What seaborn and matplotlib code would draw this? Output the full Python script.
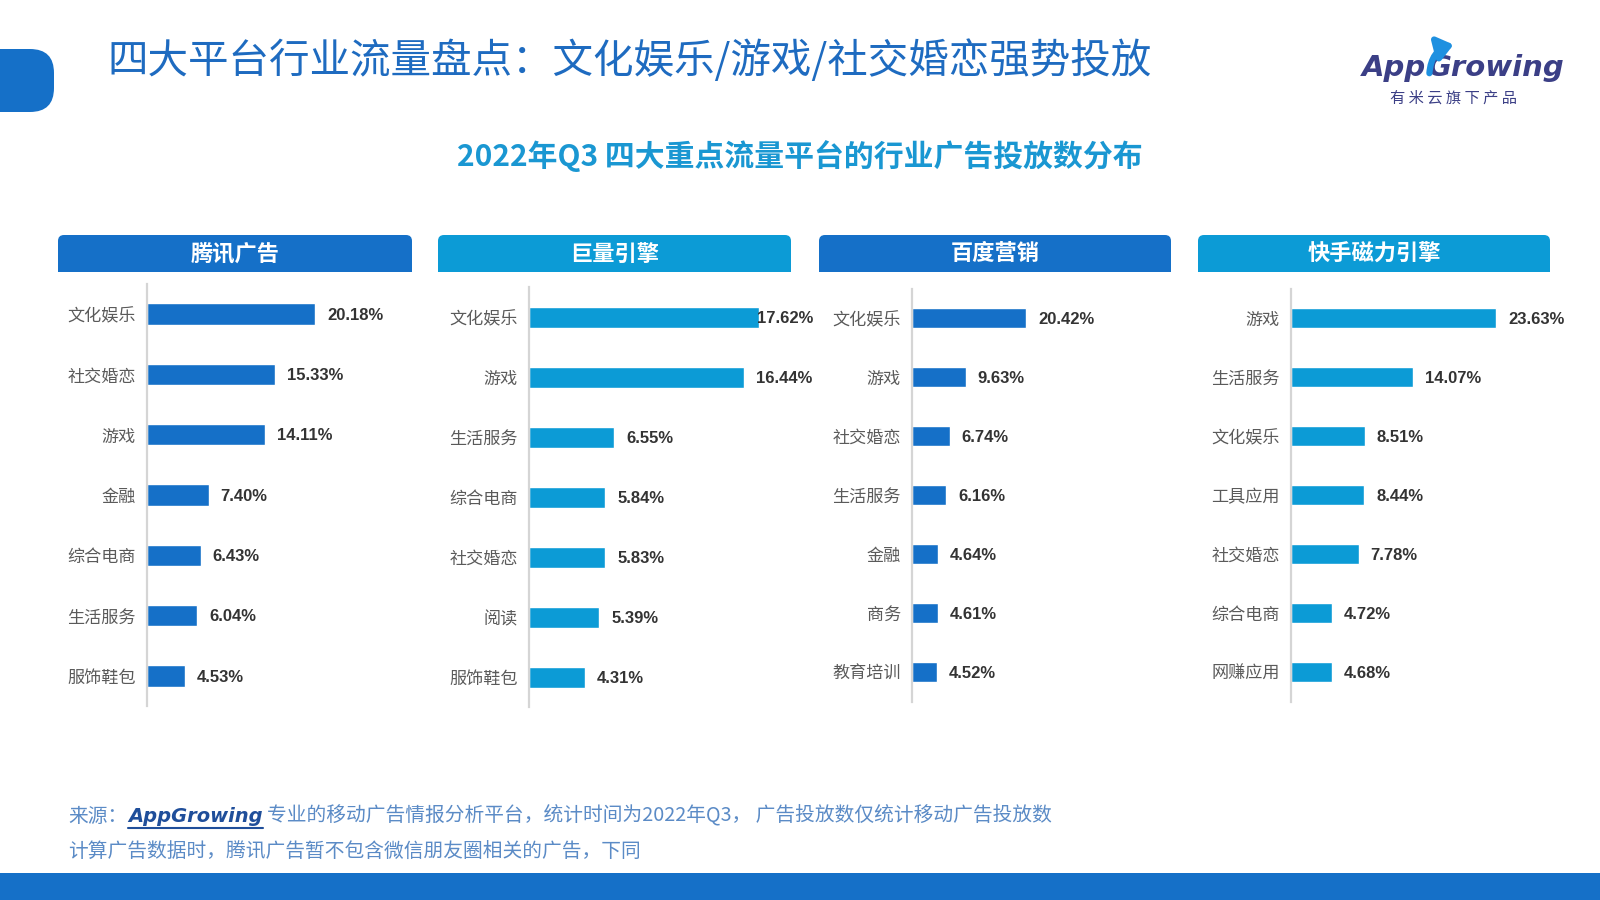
import matplotlib
matplotlib.use('Agg')
import matplotlib.pyplot as plt
import seaborn as sns
import pandas as pd
from matplotlib.patches import FancyBboxPatch, Rectangle, FancyArrowPatch

# ---------------- data ----------------
platforms = ['腾讯广告', '巨量引擎', '百度营销', '快手磁力引擎']

tencent_cats = ['文化娱乐', '社交婚恋', '游戏', '金融', '综合电商', '生活服务', '服饰鞋包']
tencent_vals = [20.18, 15.33, 14.11, 7.40, 6.43, 6.04, 4.53]

juliang_cats = ['文化娱乐', '游戏', '生活服务', '综合电商', '社交婚恋', '阅读', '服饰鞋包']
juliang_vals = [17.62, 16.44, 6.55, 5.84, 5.83, 5.39, 4.31]

baidu_cats = ['文化娱乐', '游戏', '社交婚恋', '生活服务', '金融', '商务', '教育培训']
baidu_vals = [20.42, 9.63, 6.74, 6.16, 4.64, 4.61, 4.52]

kuaishou_cats = ['游戏', '生活服务', '文化娱乐', '工具应用', '社交婚恋', '综合电商', '网赚应用']
kuaishou_vals = [23.63, 14.07, 8.51, 8.44, 7.78, 4.72, 4.68]

title = '四大平台行业流量盘点：文化娱乐/游戏/社交婚恋强势投放'
subtitle = '2022年Q3 四大重点流量平台的行业广告投放数分布'
source_prefix = '来源：'
source_brand = 'AppGrowing'
source_rest = '专业的移动广告情报分析平台，统计时间为2022年Q3， 广告投放数仅统计移动广告投放数'
source_line2 = '计算广告数据时，腾讯广告暂不包含微信朋友圈相关的广告，下同'
logo_a = 'App'
logo_b = 'Growing'
logo_sub = '有 米 云 旗 下 产 品'

# ---------------- style ----------------
DARK = '#1570C8'
LIGHT = '#0C9BD6'
W, H = 1600, 900

sns.set_theme(style='white')
plt.rcParams['font.family'] = ['Noto Sans CJK SC', 'DejaVu Sans']

fig = plt.figure(figsize=(16, 9), dpi=100)
renderer = fig.canvas.get_renderer()

# background axes in pixel coordinates
bg = fig.add_axes([0, 0, 1, 1], zorder=0)
bg.set_xlim(0, W)
bg.set_ylim(H, 0)
bg.axis('off')

# left tab
bg.add_patch(FancyBboxPatch((-40, 49), 94, 63, boxstyle='round,pad=0,rounding_size=24',
                            fc=DARK, ec='none'))
# bottom band
bg.add_patch(Rectangle((0, 873), W, 27, fc=DARK, ec='none'))

# titles
bg.text(107, 61, title, color='#1E6BC0', fontsize=29.2, va='center', ha='left')
bg.text(800, 156, subtitle, color='#1A97D2', fontsize=21.5, fontweight='bold',
        va='center', ha='center')

# logo
la = bg.text(1362, 68, logo_a, color='#3B3F86', fontsize=21, fontweight='bold',
             fontstyle='italic', va='center', ha='left', family=['DejaVu Sans'])
fig.canvas.draw()
ba = la.get_window_extent(renderer)
xg = ba.x1 + 2
bg.text(xg, 68, logo_b, color='#3B3F86', fontsize=21, fontweight='bold',
        fontstyle='italic', va='center', ha='left', family=['DejaVu Sans'])
bg.add_patch(FancyArrowPatch((xg + 1, 76), (xg + 28, 44), connectionstyle='arc3,rad=-0.4',
                             arrowstyle='-|>,head_length=9,head_width=7', lw=4.5,
                             color='#1E90E0', zorder=3))
bg.text(1454, 98, logo_sub, color='#3B3F86', fontsize=11, va='center', ha='center')

# panels
panels = [
    (tencent_cats, tencent_vals, DARK, 147, 8.33, 314, 676, 58, 412, 999),
    (juliang_cats, juliang_vals, LIGHT, 529, 13.05, 317, 677, 438, 791, 228),
    (baidu_cats, baidu_vals, DARK, 912, 5.58, 318, 672, 819, 1171, 999),
    (kuaishou_cats, kuaishou_vals, LIGHT, 1291, 8.68, 318, 672, 1198, 1550, 999),
]

AXW = 260
for name, (cats, vals, col, axx, scale, c0, c1, hx0, hx1, lmax) in zip(platforms, panels):
    # header
    bg.add_patch(FancyBboxPatch((hx0, 235), hx1 - hx0, 37,
                                boxstyle='round,pad=0,rounding_size=6', fc=col, ec='none'))
    bg.add_patch(Rectangle((hx0, 255), hx1 - hx0, 17, fc=col, ec='none'))
    bg.text((hx0 + hx1) / 2, 254, name, color='white', fontsize=16, fontweight='bold',
            va='center', ha='center')

    n = len(cats)
    sp = (c1 - c0) / (n - 1)
    top = c0 - sp / 2
    bot = c1 + sp / 2
    ax = fig.add_axes([axx / W, 1 - bot / H, AXW / W, (bot - top) / H], zorder=2)
    ax.set_facecolor('none')
    df = pd.DataFrame({'cat': cats, 'val': vals})
    sns.barplot(data=df, x='val', y='cat', ax=ax, color=col, saturation=1,
                width=0.35, orient='h')
    ax.set_xlim(0, AXW / scale)
    ax.set_ylim(n - 0.5, -0.5)
    for i, v in enumerate(vals):
        lx = min(v + 12 / scale, lmax / scale)
        ax.text(lx, i + 0.02, f'{v:.2f}%', va='center', ha='left', fontsize=12,
                fontweight='bold', color='#333333',
                family=['Liberation Sans', 'DejaVu Sans'])
    for s in ['top', 'right', 'bottom']:
        ax.spines[s].set_visible(False)
    ax.spines['left'].set_color('#D5D5D5')
    ax.spines['left'].set_linewidth(1.6)
    ax.set_xticks([])
    ax.set_xlabel('')
    ax.set_ylabel('')
    ax.tick_params(axis='y', length=0, pad=8, labelsize=12.3, labelcolor='#5A5A5A')

# footer
fc = '#5B8BC6'
t1 = bg.text(68, 816, source_prefix, color=fc, fontsize=14.2, va='center', ha='left')
fig.canvas.draw()
bb = t1.get_window_extent(renderer)
x_brand = bb.x1 + 1
t2 = fig.text(x_brand / W, 1 - 816 / H, source_brand, color='#1F4E9A', fontsize=14,
              fontweight='bold', fontstyle='italic', va='center', ha='left',
              family=['DejaVu Sans'])
fig.canvas.draw()
bb2 = t2.get_window_extent(renderer)
bg.plot([bb2.x0, bb2.x1], [828, 828], color='#1F4E9A', lw=1.5)
fig.text((bb2.x1 + 4) / W, 1 - 816 / H, source_rest, color=fc, fontsize=14.2,
         va='center', ha='left')
bg.text(68, 852, source_line2, color=fc, fontsize=14.2, va='center', ha='left')

fig.savefig('out.png', dpi=100)
